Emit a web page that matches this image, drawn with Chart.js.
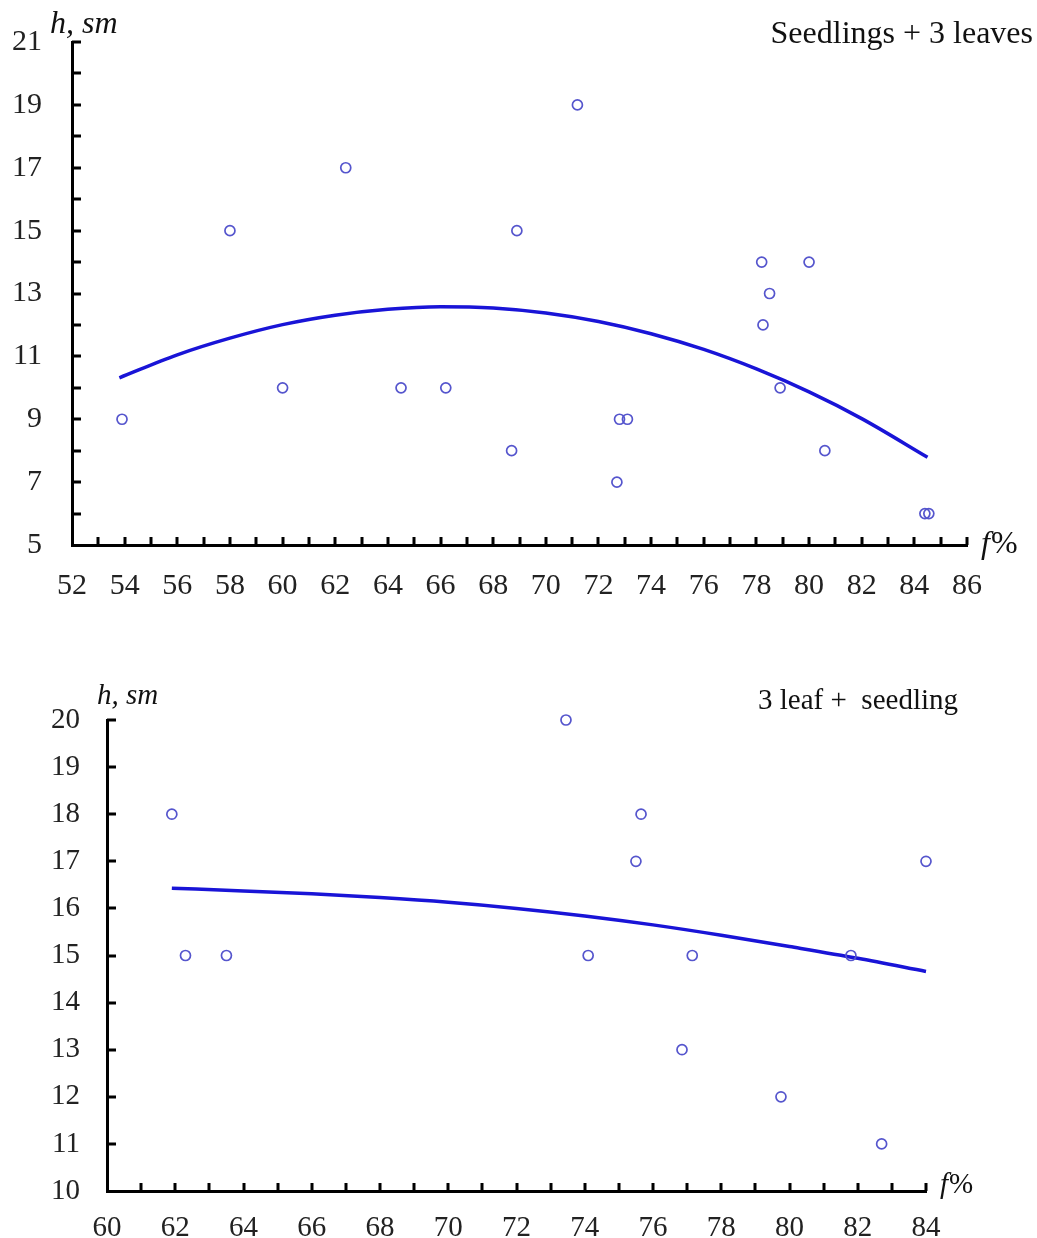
<!DOCTYPE html>
<html lang="en">
<head>
<meta charset="UTF-8">
<title>h, sm vs f%</title>
<script src="https://cdn.jsdelivr.net/npm/chart.js"></script>
<style>
  body { margin: 0; background: #fff; }
  .box { position: absolute; left: 0; width: 1037px; }
  #top { top: 0; height: 610px; }
  #bottom { top: 630px; height: 608px; }
</style>
</head>
<body>
<div class="box" id="top"><canvas id="chartTop"></canvas></div>
<div class="box" id="bottom"><canvas id="chartBottom"></canvas></div>
<script>
// top panel: Seedlings + 3 leaves
const topX = [53.9, 58.0, 60.0, 62.4, 64.5, 66.2, 68.7, 68.9, 71.2, 72.7, 72.8, 73.1, 78.2, 78.25, 78.5, 78.9, 80.0, 80.6, 84.4, 84.55];
const topY = [9, 15, 10, 17, 10, 10, 8, 15, 19, 7, 9, 9, 14, 12, 13, 10, 14, 8, 6, 6];
const topTrendX = [53.8, 56, 58, 60, 62, 64, 66, 68, 70, 72, 74, 76, 78, 80, 82, 84.5];
const topTrendY = [10.32, 11.05, 11.58, 12.01, 12.31, 12.50, 12.58, 12.54, 12.38, 12.11, 11.72, 11.22, 10.60, 9.87, 9.02, 7.79];

// bottom panel: 3 leaf + seedling
const botX = [61.9, 62.3, 63.5, 73.45, 74.1, 75.5, 75.65, 76.85, 77.15, 79.75, 81.8, 82.7, 84.0];
const botY = [18, 15, 15, 20, 15, 17, 18, 13, 15, 12, 15, 11, 17];
const botTrendX = [61.9, 64, 66, 68, 70, 72, 74, 76, 78, 80, 82, 84];
const botTrendY = [16.43, 16.37, 16.31, 16.23, 16.13, 16.00, 15.84, 15.65, 15.43, 15.19, 14.94, 14.66];

const serif = '"Liberation Serif", "Times New Roman", serif';
const pointColor = 'rgb(85, 85, 205)';
const lineColor = 'rgb(25, 20, 215)';

const zip = (xs, ys) => xs.map((x, i) => ({ x: x, y: ys[i] }));

// inward ticks on both axes + the extra labels
const extras = {
  id: 'extras',
  afterDraw(chart, args, o) {
    const ctx = chart.ctx;
    const a = chart.chartArea;
    const sx = chart.scales.x, sy = chart.scales.y;
    ctx.save();
    ctx.strokeStyle = '#000';
    ctx.lineWidth = 3;
    ctx.beginPath();
    for (let v = sx.min + 1; v <= sx.max; v++) {
      const px = Math.round(sx.getPixelForValue(v));
      ctx.moveTo(px, a.bottom);
      ctx.lineTo(px, a.bottom - 8);
    }
    for (let v = sy.min + 1; v <= sy.max; v++) {
      const py = Math.round(sy.getPixelForValue(v));
      ctx.moveTo(a.left, py);
      ctx.lineTo(a.left + 9, py);
    }
    ctx.stroke();

    ctx.fillStyle = '#111';
    ctx.textBaseline = 'alphabetic';
    ctx.font = 'italic ' + o.size + 'px ' + serif;
    ctx.textAlign = 'left';
    ctx.fillText('h, sm', a.left + o.hDx, a.top + o.hDy);
    ctx.fillText('f', a.right + o.fDx, a.bottom + o.fDy);
    const fw = ctx.measureText('f').width;
    ctx.font = o.size + 'px ' + serif;
    ctx.fillText('%', a.right + o.fDx + fw + 1, a.bottom + o.fDy);

    ctx.font = o.titleSize + 'px ' + serif;
    ctx.textAlign = 'right';
    ctx.fillText(o.title, o.titleRight, o.titleY);
    ctx.restore();
  }
};

function makeChart(id, cfg) {
  return new Chart(document.getElementById(id), {
    type: 'scatter',
    data: {
      datasets: [{
        data: zip(cfg.px, cfg.py),
        pointStyle: 'circle',
        pointRadius: 5,
        pointBorderWidth: 1.7,
        pointBorderColor: pointColor,
        pointBackgroundColor: 'rgba(255,255,255,0)',
        clip: false
      }, {
        type: 'line',
        data: zip(cfg.tx, cfg.ty),
        borderColor: lineColor,
        borderWidth: 3.5,
        pointRadius: 0,
        fill: false,
        cubicInterpolationMode: 'monotone',
        clip: false
      }]
    },
    options: {
      responsive: true,
      maintainAspectRatio: false,
      animation: false,
      events: [],
      layout: { padding: cfg.padding, autoPadding: false },
      plugins: {
        legend: { display: false },
        tooltip: { enabled: false },
        extras: cfg.extras
      },
      scales: {
        x: {
          type: 'linear',
          min: cfg.xMin, max: cfg.xMax,
          afterFit: s => { s.height = cfg.xHeight; s.paddingLeft = 0; s.paddingRight = 0; },
          grid: { display: false, drawTicks: false },
          border: { display: true, color: '#000', width: 3 },
          ticks: { stepSize: 2, padding: cfg.xPad, color: '#222', font: { family: serif, size: cfg.fontSize } }
        },
        y: {
          type: 'linear',
          min: cfg.yMin, max: cfg.yMax,
          afterFit: s => { s.width = cfg.yWidth; s.paddingTop = 0; s.paddingBottom = 0; },
          grid: { display: false, drawTicks: false },
          border: { display: true, color: '#000', width: 3 },
          ticks: { stepSize: cfg.yStep, padding: cfg.yPad, color: '#222', font: { family: serif, size: cfg.fontSize } }
        }
      }
    },
    plugins: [extras]
  });
}

makeChart('chartTop', {
  px: topX, py: topY, tx: topTrendX, ty: topTrendY,
  xMin: 52, xMax: 86, yMin: 5, yMax: 21, yStep: 2,
  padding: { left: 0, right: 70, top: 42, bottom: 0 },
  xHeight: 65, yWidth: 72, xPad: 23, yPad: 30, fontSize: 30,
  extras: { title: 'Seedlings + 3 leaves', titleRight: 1033, titleY: 43, titleSize: 32,
            size: 32, hDx: -22, hDy: -9, fDx: 14, fDy: 8 }
});

makeChart('chartBottom', {
  px: botX, py: botY, tx: botTrendX, ty: botTrendY,
  xMin: 60, xMax: 84, yMin: 10, yMax: 20, yStep: 1,
  padding: { left: 0, right: 111, top: 90, bottom: 0 },
  xHeight: 47, yWidth: 107, xPad: 20, yPad: 27, fontSize: 29,
  extras: { title: '3 leaf +  seedling', titleRight: 958, titleY: 79, titleSize: 29,
            size: 29, hDx: -10, hDy: -16, fDx: 14, fDy: 2 }
});
</script>
</body>
</html>
